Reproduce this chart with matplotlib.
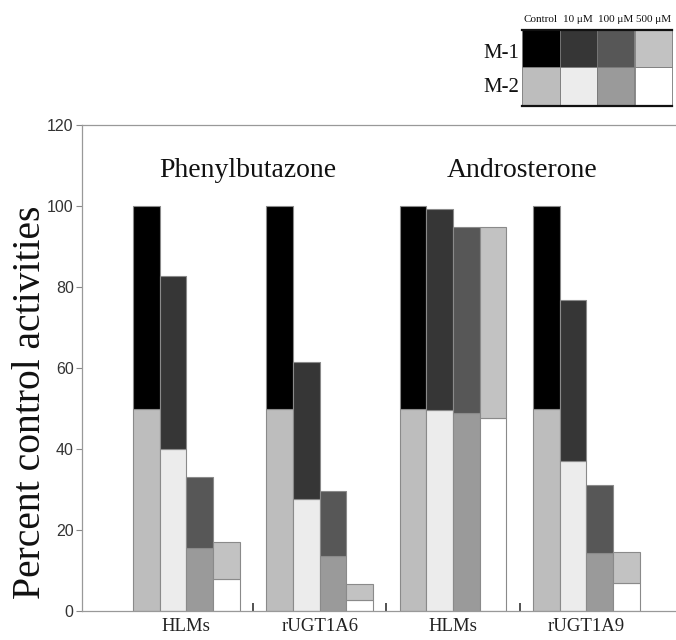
import numpy as np
import matplotlib
matplotlib.use("Agg")
import matplotlib.pyplot as plt
from matplotlib.patches import Rectangle

# ---- data ----
groups = ["HLMs", "rUGT1A6", "HLMs", "rUGT1A9"]
substrates = ["Phenylbutazone", "Androsterone"]
concentrations = ["Control", "10 \u03bcM", "100 \u03bcM", "500 \u03bcM"]
# M-2 portion (bottom) per group, per concentration
m2_values = [
    [50.0, 40.0, 15.6, 7.9],
    [50.0, 27.6, 13.7, 2.7],
    [50.0, 49.6, 48.8, 47.7],
    [50.0, 37.1, 14.4, 6.8],
]
# total (M-1 + M-2) per group, per concentration
total_values = [
    [100.0, 82.8, 33.2, 17.1],
    [100.0, 61.6, 29.7, 6.7],
    [100.0, 99.3, 94.8, 94.7],
    [100.0, 76.7, 31.1, 14.5],
]
m1_colors = ["#000000", "#363636", "#575757", "#c2c2c2"]
m2_colors = ["#bdbdbd", "#ececec", "#9a9a9a", "#ffffff"]
y_ticks = [0, 20, 40, 60, 80, 100, 120]

serif = ["Liberation Serif", "DejaVu Serif"]
sans = ["Liberation Sans", "DejaVu Sans"]

fig = plt.figure(figsize=(6.76, 6.40), dpi=100)
ax = fig.add_axes([82 / 676, 1 - 611 / 640, 1 - 82 / 676, (611 - 125) / 640])

n_conc = len(concentrations)
step = n_conc + 1
edge = "#8a8a8a"
for g, (m2, tot) in enumerate(zip(m2_values, total_values)):
    pos = g * step + np.arange(n_conc) + 0.5
    m1 = np.array(tot) - np.array(m2)
    ax.bar(pos, m2, width=1.0, color=m2_colors, edgecolor=edge, linewidth=0.8)
    ax.bar(pos, m1, bottom=m2, width=1.0, color=m1_colors, edgecolor=edge, linewidth=0.8)

ax.set_ylim(0, 120)
xmin = -51 / 26.67
ax.set_xlim(xmin, xmin + (676 - 82) / 26.67)

ax.set_yticks(y_ticks)
ax.set_yticklabels([str(v) for v in y_ticks], fontfamily=sans, fontsize=11.5, color="#333333")
ax.tick_params(axis="y", direction="out", length=4, color="#888888", width=0.8, pad=2)

centers = [g * step + n_conc / 2 for g in range(len(groups))]
ax.set_xticks(centers)
ax.set_xticklabels(groups, fontfamily=serif, fontsize=13.5, color="#222222")
ax.tick_params(axis="x", length=0, pad=5)
ax.set_xticks([g * step - 0.5 for g in range(1, len(groups))], minor=True)
ax.tick_params(axis="x", which="minor", direction="in", length=6, width=1.2, color="#333333")

for s in ["left", "top", "bottom"]:
    ax.spines[s].set_color("#999999")
    ax.spines[s].set_linewidth(0.9)
ax.spines["right"].set_visible(False)

ax.set_ylabel("Percent control activities", fontfamily=serif, fontsize=28.5, color="#111111")
ax.yaxis.set_label_coords(-33 / 594, (611 - 402) / 486)

# substrate titles
title_x = [4.3, 14.6]
for k, name in enumerate(substrates):
    ax.text(title_x[k], 107.2, name, ha="center", va="baseline", fontfamily=serif, fontsize=20, color="#111111")

# legend table (figure coords)
L, R = 522 / 676, 672 / 676
T, M, B = 1 - 30 / 640, 1 - 67 / 640, 1 - 106 / 640
cw = (R - L) / n_conc
for i in range(n_conc):
    fig.add_artist(Rectangle((L + i * cw, M), cw, T - M, transform=fig.transFigure,
                             facecolor=m1_colors[i], edgecolor="#777777", linewidth=0.6))
    fig.add_artist(Rectangle((L + i * cw, B), cw, M - B, transform=fig.transFigure,
                             facecolor=m2_colors[i], edgecolor="#777777", linewidth=0.6))
    fig.text(L + (i + 0.5) * cw, 1 - 19 / 640, concentrations[i], ha="center", va="center",
             fontfamily=serif, fontsize=8, color="#111111")
fig.add_artist(plt.Line2D([L, R], [T, T], transform=fig.transFigure, color="#111111", linewidth=1.6))
fig.add_artist(plt.Line2D([L, R], [B, B], transform=fig.transFigure, color="#111111", linewidth=1.6))
fig.text(501 / 676, 1 - 54 / 640, "M-1", ha="center", va="center", fontfamily=serif, fontsize=15, color="#111111")
fig.text(501 / 676, 1 - 88 / 640, "M-2", ha="center", va="center", fontfamily=serif, fontsize=15, color="#111111")

fig.savefig("out.png", dpi=100)
